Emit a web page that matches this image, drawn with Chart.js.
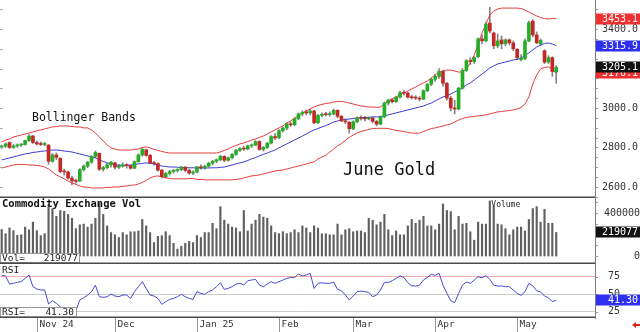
<!DOCTYPE html>
<html><head><meta charset="utf-8">
<script src="https://cdn.jsdelivr.net/npm/chart.js@4.4.1/dist/chart.umd.min.js"></script>
<style>
html,body{margin:0;padding:0;background:#fff;overflow:hidden}
#wrap{position:relative;width:640px;height:332px;background:#fff}
canvas{position:absolute;left:0;display:block}
</style></head><body>
<div id="wrap">
<canvas id="cP" width="640" height="198" style="top:0;width:640px;height:198px"></canvas>
<canvas id="cV" width="640" height="66" style="top:198px;width:640px;height:66px"></canvas>
<canvas id="cR" width="640" height="68" style="top:264px;width:640px;height:68px"></canvas>
</div>
<script>
// ---------- DATA ----------
const opens = [2802,2806,2825,2800,2808,2812,2815,2835,2858,2825,2818,2815,2812,2730,2762,2745,2678,2676,2645,2630,
2630,2688,2705,2725,2755,2770,2690,2698,2712,2722,2700,2705,2712,2708,2695,2728,2762,2788,2760,2722,
2718,2685,2652,2668,2678,2684,2688,2700,2684,2670,2676,2702,2696,2705,2720,2730,2738,2755,2735,2748,
2765,2786,2795,2792,2808,2812,2830,2790,2800,2822,2855,2850,2885,2898,2920,2915,2945,2970,2978,2975,
2985,2925,2962,2968,2966,2970,2988,2958,2935,2928,2895,2930,2950,2948,2945,2950,2932,2918,2955,3025,
3040,3032,3055,3078,3075,3055,3052,3050,3045,3088,3120,3145,3160,3185,3125,3050,3000,2995,3100,3190,
3240,3235,3260,3350,3340,3430,3380,3315,3345,3325,3345,3330,3298,3245,3250,3340,3440,3370,3325,3290,
3232,3255,3182];
const highs = [2812,2822,2828,2815,2818,2820,2838,2865,2862,2832,2828,2825,2815,2770,2772,2748,2690,2680,2655,2640,
2692,2712,2730,2760,2782,2772,2705,2720,2730,2725,2715,2722,2718,2710,2732,2768,2800,2792,2765,2730,
2722,2690,2675,2685,2690,2692,2705,2704,2690,2682,2705,2712,2710,2725,2735,2742,2760,2758,2752,2770,
2790,2800,2805,2812,2818,2835,2835,2805,2825,2860,2870,2890,2905,2925,2930,2950,2975,2985,2990,2995,
2990,2968,2975,2978,2980,2995,2992,2962,2945,2932,2935,2955,2960,2958,2955,2952,2938,2960,3030,3045,
3048,3058,3085,3088,3080,3065,3062,3058,3092,3125,3150,3170,3200,3192,3130,3060,3040,3105,3200,3245,
3255,3260,3355,3370,3435,3510,3385,3375,3365,3350,3350,3340,3300,3270,3350,3440,3448,3385,3350,3295,
3265,3260,3215];
const lows = [2795,2800,2795,2795,2800,2805,2812,2830,2820,2812,2810,2808,2715,2725,2738,2672,2660,2640,2610,2618,
2628,2680,2698,2720,2748,2682,2680,2692,2700,2690,2692,2700,2695,2690,2692,2725,2755,2755,2718,2710,
2680,2645,2645,2660,2670,2675,2682,2678,2665,2662,2672,2690,2690,2700,2712,2722,2732,2728,2730,2742,
2760,2780,2785,2788,2800,2808,2785,2782,2795,2818,2840,2845,2878,2890,2905,2910,2940,2960,2965,2965,
2920,2920,2955,2960,2958,2965,2950,2930,2920,2872,2890,2925,2938,2935,2940,2925,2910,2915,2950,3015,
3025,3028,3050,3065,3050,3045,3042,3035,3042,3082,3112,3135,3150,3110,3040,2985,2970,2990,3095,3185,
3220,3225,3255,3325,3335,3380,3300,3305,3300,3315,3320,3290,3245,3238,3245,3335,3360,3325,3315,3225,
3225,3160,3125];
const closes = [2806,2818,2800,2808,2812,2815,2835,2858,2825,2818,2815,2817,2730,2762,2750,2678,2676,2645,2630,2628,
2688,2705,2725,2755,2775,2690,2698,2712,2725,2700,2705,2712,2708,2695,2728,2762,2790,2760,2722,2718,
2685,2652,2668,2678,2684,2688,2700,2684,2670,2676,2702,2696,2705,2720,2730,2738,2755,2735,2748,2765,
2786,2795,2792,2808,2812,2830,2790,2800,2822,2855,2848,2885,2898,2920,2915,2945,2970,2978,2975,2985,
2925,2962,2968,2966,2970,2988,2958,2935,2930,2895,2930,2950,2948,2945,2950,2932,2918,2955,3025,3040,
3032,3055,3078,3075,3055,3052,3050,3045,3088,3120,3145,3160,3185,3125,3050,3000,2995,3100,3190,3240,
3235,3255,3350,3340,3425,3390,3315,3340,3325,3345,3330,3300,3255,3252,3340,3432,3370,3330,3342,3232,
3255,3185,3205.1];
const bbUpper = [2828,2838,2843,2853,2858,2863,2868,2873,2879,2884,2889,2894,2899,2904,2906,2909,2909,2909,2906,2904,
2904,2899,2899,2889,2873,2853,2833,2813,2798,2792,2787,2787,2787,2787,2790,2792,2800,2803,2798,2790,
2785,2780,2775,2772,2772,2772,2772,2772,2772,2772,2772,2772,2772,2772,2772,2772,2777,2785,2792,2803,
2810,2818,2823,2830,2838,2843,2851,2858,2868,2879,2889,2899,2909,2924,2934,2949,2960,2975,2985,2995,
3005,3013,3018,3023,3025,3030,3033,3033,3030,3025,3020,3015,3010,3008,3005,3005,3003,3005,3020,3036,
3046,3056,3066,3076,3086,3096,3106,3117,3127,3137,3152,3167,3182,3187,3192,3192,3187,3182,3182,3198,
3228,3268,3324,3380,3425,3471,3491,3501,3506,3506,3506,3506,3506,3504,3496,3486,3476,3466,3458,3453,
3451,3453,3453.1];
const bbMiddle = [2737,2742,2747,2752,2757,2762,2767,2770,2775,2777,2780,2782,2785,2787,2787,2785,2782,2780,2777,2772,
2767,2762,2757,2752,2747,2737,2729,2722,2717,2711,2711,2709,2709,2711,2714,2717,2719,2722,2719,2717,
2711,2706,2704,2701,2701,2700,2699,2698,2697,2697,2696,2696,2696,2696,2697,2697,2699,2701,2706,2711,
2717,2722,2727,2734,2742,2749,2757,2765,2772,2780,2787,2798,2808,2818,2828,2838,2848,2858,2868,2879,
2889,2896,2904,2911,2919,2929,2934,2939,2942,2944,2947,2949,2949,2952,2952,2955,2955,2955,2960,2965,
2970,2975,2980,2985,2990,2995,3000,3005,3010,3018,3025,3036,3046,3056,3061,3071,3081,3091,3101,3117,
3127,3142,3157,3172,3187,3203,3213,3223,3228,3233,3238,3243,3246,3253,3266,3279,3294,3309,3319,3327,
3329,3324,3315.9];
const bbLower = [2696,2701,2706,2711,2714,2714,2714,2711,2711,2709,2706,2701,2691,2676,2661,2651,2641,2630,2620,2613,
2605,2600,2598,2595,2595,2595,2595,2598,2598,2600,2600,2603,2605,2608,2610,2615,2623,2633,2646,2653,
2656,2651,2646,2643,2641,2641,2641,2641,2643,2643,2638,2638,2636,2636,2636,2636,2636,2636,2636,2636,
2638,2641,2646,2651,2656,2658,2661,2666,2671,2676,2681,2684,2686,2691,2696,2701,2706,2711,2717,2722,
2727,2742,2752,2760,2777,2792,2808,2820,2836,2851,2863,2873,2881,2886,2891,2896,2897,2897,2897,2896,
2891,2886,2884,2880,2876,2873,2872,2873,2881,2889,2896,2899,2904,2909,2914,2919,2929,2939,2947,2952,
2955,2957,2960,2962,2965,2970,2975,2980,2982,2985,2987,2990,2995,3003,3020,3056,3122,3167,3198,3205,
3208,3198,3176.1];
const volumes = [247000,207000,261000,236000,193000,197000,269000,244000,315000,236000,
190000,208000,477000,441000,369000,423000,416000,387000,351000,254000,
290000,297000,269000,297000,351000,494000,387000,280000,218000,197000,
172000,218000,197000,226000,226000,233000,340000,280000,218000,125000,
183000,190000,226000,190000,118000,64000,90000,118000,136000,125000,
190000,172000,218000,218000,304000,254000,459000,333000,297000,269000,
261000,226000,423000,233000,297000,333000,387000,362000,351000,280000,
218000,208000,226000,208000,218000,244000,218000,280000,261000,218000,
280000,260000,
207000,207000,197000,197000,297000,197000,244000,254000,226000,233000,
233000,218000,351000,333000,290000,315000,387000,244000,190000,233000,
197000,197000,280000,340000,304000,333000,369000,280000,280000,244000,
297000,484000,423000,413000,244000,369000,297000,304000,226000,147000,
315000,297000,297000,512000,459000,297000,290000,254000,197000,244000,
269000,269000,233000,340000,441000,459000,315000,434000,304000,304000,
219077];
const rsi = [77,76,64.5,65.5,67,68,72.6,77.4,60.7,57.4,56,56,36,40.7,37,32,28,25,25,26.4,
41.7,45,48.8,53.6,63,46.4,45.5,46.4,50.2,47.4,46.4,48.8,48.8,44,53.6,60.7,67.9,58.3,48.8,47.4,
44,35.5,39.3,42.6,44,46.4,49.8,46.4,44,42.6,53.6,51.2,49.8,53.6,56,60.7,66.4,56.9,58.3,60.7,
64.5,65.5,63,69.3,70.2,71.2,63,60.7,64.5,67.9,65.5,67.9,70.2,72.6,74,74,78.8,76,77.4,79.8,
58.3,65.5,66.4,65.5,65.5,67.4,56.9,55,48.8,41.7,47.4,53.6,54.5,53.6,52.6,46.4,48.8,56,66.9,66.9,
69.3,72.6,76,74,66.4,62,61.7,63,70.2,74,78.3,77,79.8,63,51.2,40.7,37.9,51.2,63,67.4,
65.5,70.2,75,73.6,76.4,71.2,63,61.7,61.7,60.7,60.7,56,51.2,48.3,53.6,65.5,62,55,53.1,47.4,
45,39.3,41.3];
const monthLabels = ['Nov 24','Dec','Jan 25','Feb','Mar','Apr','May'];
const monthStarts = [9,29,50,71,90,111,132];
const priceTicks = [2600,2800,3000,3200,3400];
const priceMinorTicks = [2550,2600,2650,2700,2750,2800,2850,2900,2950,3000,3050,3100,3150,3200,3250,3300,3350,3400,3450,3500];
const priceLeftTicks = [2600,2700,2800,2900,3000,3100,3200,3300,3400,3500];
const volTicks = [0,400000];
const rsiTicks = [25,50,75];
const lastVolume = 219077;
const lastRsi = 41.30;

// ---------- COMMON ----------
const MONO = '"DejaVu Sans Mono", "Liberation Mono", monospace';
const X_MIN = -0.435, X_MAX = 151.93;
const idx = closes.map((_, i) => i);
const pts = arr => arr.map((v, i) => ({x: i, y: v}));
function xAxis(){ return {type:'linear', min:X_MIN, max:X_MAX, display:false, offset:false}; }
function rightAxis(min, max, ticks, fmt, align, pad, gridColor){
  return {
    position:'right', min, max, offset:false,
    afterBuildTicks: s => { s.ticks = ticks.map(v => ({value: v})); },
    afterFit: s => { s.width = 45; s.paddingTop = 0; s.paddingBottom = 0; },
    grid: gridColor ? {display:true, drawTicks:false, drawOnChartArea:true, color:gridColor, lineWidth:1}
                    : {display:false, drawTicks:false},
    border: {display:true, color:'#7a7a7a', width:1},
    ticks: {padding:pad, crossAlign:align, color:'#333', font:{family:MONO, size:10}, callback:fmt, autoSkip:false}
  };
}
const baseOpts = {responsive:false, maintainAspectRatio:false, animation:false, devicePixelRatio:1, events:[],
  layout:{padding:0}, plugins:{legend:{display:false}, tooltip:{enabled:false}}};

function valueBox(ctx, scale, value, bg, fg, text){
  const py = scale.getPixelForValue(value);
  ctx.fillStyle = bg; ctx.fillRect(596, Math.round(py) - 5.5, 44, 11);
  ctx.fillStyle = fg; ctx.font = '10px ' + MONO; ctx.textAlign = 'right'; ctx.textBaseline = 'middle';
  ctx.fillText(text, 638, Math.round(py) + 0.5);
}
function minorTicks(ctx, scale, vals, x0, len, color){
  ctx.strokeStyle = color; ctx.lineWidth = 1;
  for (const v of vals){
    const py = Math.round(scale.getPixelForValue(v)) + 0.5;
    ctx.beginPath(); ctx.moveTo(x0, py); ctx.lineTo(x0 + len, py); ctx.stroke();
  }
}

// ---------- PRICE PANEL ----------
const pricePlugin = {
  id:'pricePlugin',
  afterDraw(chart){
    const {ctx, chartArea:a, scales:{y}} = chart;
    ctx.save();
    minorTicks(ctx, y, priceLeftTicks, 0, 3, '#aaa');
    minorTicks(ctx, y, priceMinorTicks, 595, 3, '#999');
    ctx.fillStyle = '#111'; ctx.textAlign = 'left'; ctx.textBaseline = 'alphabetic';
    ctx.font = '11.5px ' + MONO; ctx.fillText('Bollinger Bands', 32, 121);
    ctx.font = '17px ' + MONO; ctx.fillText('June Gold', 343, 175);
    const n = closes.length - 1;
    valueBox(ctx, y, bbUpper[n], '#ee3030', '#fff', bbUpper[n].toFixed(1));
    valueBox(ctx, y, bbMiddle[n], '#2f2ff0', '#fff', bbMiddle[n].toFixed(1));
    valueBox(ctx, y, bbLower[n], '#ee3030', '#fff', bbLower[n].toFixed(1));
    valueBox(ctx, y, closes[n], '#111', '#fff', closes[n].toFixed(1));
    ctx.fillStyle = '#4a4a4a'; ctx.fillRect(0, a.bottom - 1.5, a.right, 1.5);
    ctx.restore();
  }
};
new Chart(document.getElementById('cP'), {
  type:'bar',
  data:{datasets:[
    {type:'bar', data: idx.map(i => ({x:i, y:[lows[i], highs[i]]})), backgroundColor:'#858585',
      barThickness:1, grouped:false, order:3},
    {type:'line', data: pts(bbUpper), borderColor:'#e63c3c', borderWidth:1, pointRadius:0, tension:0, order:2},
    {type:'line', data: pts(bbMiddle), borderColor:'#3b3bd4', borderWidth:1, pointRadius:0, tension:0, order:2},
    {type:'line', data: pts(bbLower), borderColor:'#e63c3c', borderWidth:1, pointRadius:0, tension:0, order:2},
    {type:'bar', data: idx.map(i => ({x:i, y:[opens[i], closes[i]]})),
      backgroundColor: idx.map(i => closes[i] >= opens[i] ? '#25ad25' : '#c62626'),
      barThickness:3, grouped:false, minBarLength:1, order:1}
  ]},
  options: Object.assign({}, baseOpts, {
    scales:{ x: xAxis(), y: rightAxis(2544, 3547, priceTicks, v => Number(v).toFixed(1), 'near', 7, null) }
  }),
  plugins:[pricePlugin]
});

// ---------- VOLUME PANEL ----------
const volPlugin = {
  id:'volPlugin',
  afterDraw(chart){
    const {ctx, chartArea:a, scales:{x, y}} = chart;
    ctx.save();
    minorTicks(ctx, y, [0,100000,200000,300000,400000,500000], 595, 3, '#999');
    ctx.fillStyle = '#111'; ctx.textAlign = 'left'; ctx.textBaseline = 'alphabetic';
    ctx.font = 'bold 10.5px ' + MONO; ctx.fillText('Commodity Exchange Vol', 2, 9);
    // "Volume" tag next to the tallest bar
    let mi = 0; volumes.forEach((v, i) => { if (v > volumes[mi]) mi = i; });
    ctx.font = '8px ' + MONO; ctx.fillStyle = '#222';
    ctx.fillText('Volume', x.getPixelForValue(mi) + 1.5, y.getPixelForValue(volumes[mi]) + 6);
    // readout box
    ctx.fillStyle = '#fff'; ctx.fillRect(0, 55, 80, 9.5);
    ctx.strokeStyle = '#999'; ctx.lineWidth = 1; ctx.strokeRect(0.5, 55.5, 79, 9);
    ctx.fillStyle = '#222'; ctx.font = '9.5px ' + MONO; ctx.textBaseline = 'middle';
    ctx.fillText('Vol=', 2, 60.5);
    ctx.textAlign = 'right'; ctx.fillText(String(lastVolume), 78, 60.5);
    valueBox(ctx, y, lastVolume, '#111', '#fff', String(lastVolume));
    ctx.fillStyle = '#4a4a4a'; ctx.fillRect(0, a.bottom - 1.5, a.right, 1.5);
    ctx.restore();
  }
};
new Chart(document.getElementById('cV'), {
  type:'bar',
  data:{datasets:[
    {data: pts(volumes), backgroundColor:'#606060', barThickness:1.5, grouped:false}
  ]},
  options: Object.assign({}, baseOpts, {
    scales:{ x: xAxis(), y: rightAxis(-74419, 539535, volTicks, v => String(v), 'far', 7, null) }
  }),
  plugins:[volPlugin]
});

// ---------- RSI PANEL ----------
const rsiPlugin = {
  id:'rsiPlugin',
  afterDraw(chart){
    const {ctx, chartArea:a, scales:{x, y}} = chart;
    ctx.save();
    minorTicks(ctx, y, [25,50,75], 595, 3, '#999');
    ctx.fillStyle = '#222'; ctx.textAlign = 'left'; ctx.textBaseline = 'alphabetic';
    ctx.font = '9.5px ' + MONO; ctx.fillText('RSI', 2, 9);
    // readout box
    ctx.fillStyle = '#fff'; ctx.fillRect(0, 43, 77, 10);
    ctx.strokeStyle = '#999'; ctx.lineWidth = 1; ctx.strokeRect(0.5, 43.5, 76, 9.5);
    ctx.fillStyle = '#222'; ctx.textBaseline = 'middle';
    ctx.fillText('RSI=', 2, 48.5);
    ctx.textAlign = 'right'; ctx.fillText(lastRsi.toFixed(2), 74, 48.5);
    valueBox(ctx, y, lastRsi, '#2f2ff0', '#fff', lastRsi.toFixed(2));
    // frame
    ctx.fillStyle = '#4a4a4a'; ctx.fillRect(0, a.bottom - 1.5, a.right, 1.5);
    // month labels along the shared time axis
    ctx.textAlign = 'left'; ctx.textBaseline = 'alphabetic'; ctx.font = '9.5px ' + MONO;
    monthStarts.forEach((d, k) => {
      const px = Math.round(x.getPixelForValue(d)) + 0.5;
      ctx.strokeStyle = '#9a9a9a'; ctx.beginPath(); ctx.moveTo(px, a.bottom); ctx.lineTo(px, 68); ctx.stroke();
      ctx.fillStyle = '#333'; ctx.fillText(monthLabels[k], px + 2, 63);
    });
    // small red marker arrow at bottom right
    ctx.fillStyle = '#e02020';
    ctx.beginPath(); ctx.moveTo(632, 61); ctx.lineTo(636, 58); ctx.lineTo(636, 60); ctx.lineTo(640, 60);
    ctx.lineTo(640, 62); ctx.lineTo(636, 62); ctx.lineTo(636, 64); ctx.closePath(); ctx.fill();
    ctx.restore();
  }
};
new Chart(document.getElementById('cR'), {
  type:'line',
  data:{datasets:[
    {data: pts(rsi), borderColor:'#4a4ad2', borderWidth:1, pointRadius:0, tension:0}
  ]},
  options: Object.assign({}, baseOpts, {
    layout:{padding:{bottom:14}},
    scales:{ x: xAxis(), y: rightAxis(16, 93.14, rsiTicks, v => String(v), 'near', 13,
      ctx => (ctx.tick && ctx.tick.value === 75) ? '#f3b0b0' : '#cccccc') }
  }),
  plugins:[rsiPlugin]
});
</script>
</body></html>
